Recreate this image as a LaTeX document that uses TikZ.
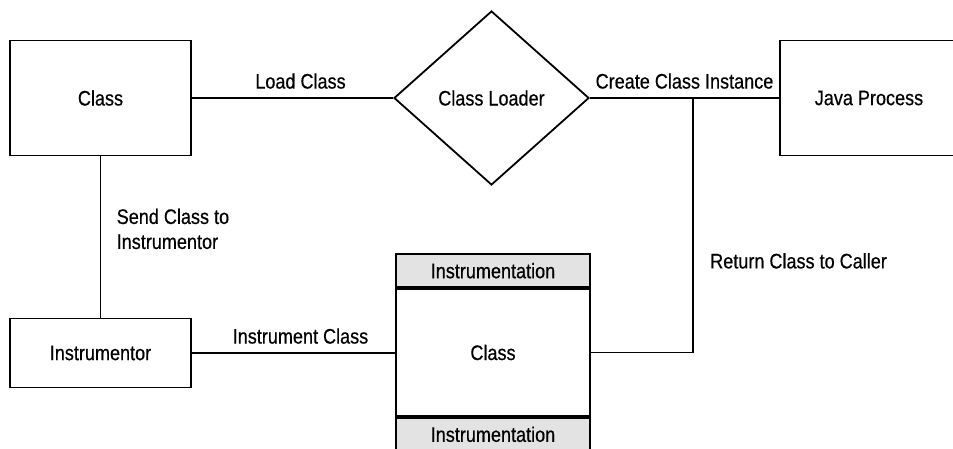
\documentclass[tikz,border=0pt]{standalone}
\usepackage{fontspec}
\setmainfont[FakeStretch=0.86, FakeBold=0.5]{Liberation Sans}
\usetikzlibrary{shapes.geometric}

\tikzset{
  box/.style={draw, line width=1.8pt, minimum width=181pt, inner sep=0pt},
  strip/.style={draw, line width=1.8pt, fill=black!11, minimum width=194pt, minimum height=33pt, inner sep=0pt},
  link/.style={line width=1.8pt},
}

\begin{document}
\begin{tikzpicture}[x=1pt, y=-1pt, font=\fontsize{21}{25}\selectfont]
		\useasboundingbox (0,0) rectangle (953,449);

		% Bokser
		\node[box, minimum height=115pt] (cls) at (100.5,98) {Class};
		\node[draw, diamond, line width=1.8pt, aspect=1.12, minimum width=195pt, minimum height=174pt, inner sep=0pt] (loader) at (491.5,98) {Class Loader};
		\node[box, minimum width=178pt, minimum height=115pt] (java) at (869,98) {Java Process};
		\node[box, minimum height=69pt] (instr) at (100.5,353) {Instrumentor};

		% Instrumentert klasse
		\node[box, minimum width=194pt, minimum height=127pt] (icls) at (493,352.5) {Class};
		\node[strip, anchor=south] (itop) at (icls.north) {Instrumentation};
		\node[strip, anchor=north] (ibot) at (icls.south) {Instrumentation};

		% Forbindelser
		\coordinate (tap) at (693,98);
		\draw[link] (cls) -- node[above=5pt, xshift=8pt] {Load Class} (loader);
		\draw[link] (loader) -- node[above=5pt] {Create Class Instance} (java);
		\draw[link] (cls) -- node[pos=0.45, anchor=west, xshift=12pt, align=left] {Send Class to\\Instrumentor} (instr);
		\draw[link] (instr) -- node[above=5pt, xshift=7pt] {Instrument Class} (instr -| icls.west);
		\draw[link] (icls.east) -| node[pos=0.68, anchor=west, xshift=13pt] {Return Class to Caller} (tap);
	\end{tikzpicture}
\end{document}
